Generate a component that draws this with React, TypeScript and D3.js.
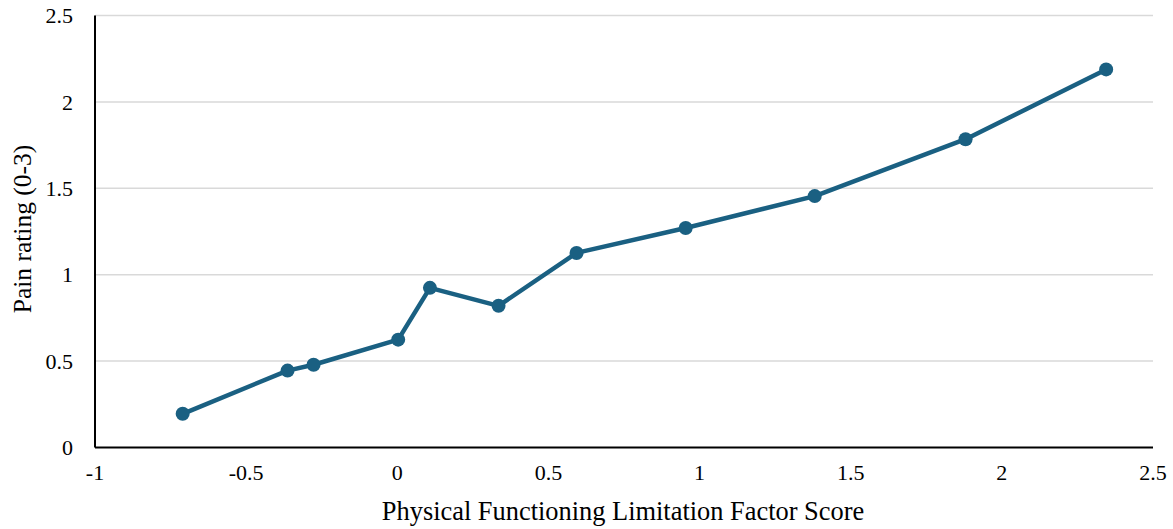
import React from "react";
import * as d3 from "d3";

const xValues = [-0.71, -0.363, -0.277, 0.003, 0.108, 0.335, 0.593, 0.954, 1.381, 1.88, 2.345];
const yValues = [0.195, 0.445, 0.479, 0.624, 0.924, 0.82, 1.126, 1.27, 1.455, 1.784, 2.188];
const xTicks = [-1, -0.5, 0, 0.5, 1, 1.5, 2, 2.5];
const yTicks = [0, 0.5, 1, 1.5, 2, 2.5];
const xTitle = "Physical Functioning Limitation Factor Score";
const yTitle = "Pain rating (0-3)";

export default function App() {
  const W = 1173, H = 529;
  const left = 95, right = 1153, top = 15.5, bottom = 447.5;
  const x = d3.scaleLinear().domain([-1, 2.5]).range([left, right]);
  const y = d3.scaleLinear().domain([0, 2.5]).range([bottom, top]);
  const data = xValues.map((v, i) => [v, yValues[i]] as [number, number]);
  const line = d3.line<[number, number]>().x(d => x(d[0])).y(d => y(d[1]));
  const color = "#1a6082";
  const font = "'Liberation Serif', 'Times New Roman', serif";
  return (
    <svg width={W} height={H} style={{ position: "absolute", left: 0, top: 0, background: "#fff" }}>
      {yTicks.map(t => t > 0 && (
        <line key={"g" + t} x1={left} x2={right} y1={y(t)} y2={y(t)} stroke="#d9d9d9" strokeWidth={1.5} />
      ))}
      <line x1={left} x2={left} y1={top} y2={bottom} stroke="#000" strokeWidth={2} />
      <line x1={left} x2={right} y1={bottom} y2={bottom} stroke="#000" strokeWidth={2} />
      {yTicks.map(t => (
        <text key={"y" + t} x={73} y={y(t)} dy="0.35em" textAnchor="end" fontFamily={font} fontSize={22} fill="#000">{t}</text>
      ))}
      {xTicks.map(t => (
        <text key={"x" + t} x={x(t)} y={480} textAnchor="middle" fontFamily={font} fontSize={22} fill="#000">{t}</text>
      ))}
      <text x={623} y={520} textAnchor="middle" fontFamily={font} fontSize={26.4} fill="#000">{xTitle}</text>
      <text transform={`translate(31, 229) rotate(-90)`} textAnchor="middle" fontFamily={font} fontSize={25.5} fill="#000">{yTitle}</text>
      <path d={line(data) || ""} fill="none" stroke={color} strokeWidth={4.5} strokeLinejoin="round" />
      {data.map((d, i) => (
        <circle key={i} cx={x(d[0])} cy={y(d[1])} r={7} fill={color} />
      ))}
    </svg>
  );
}
